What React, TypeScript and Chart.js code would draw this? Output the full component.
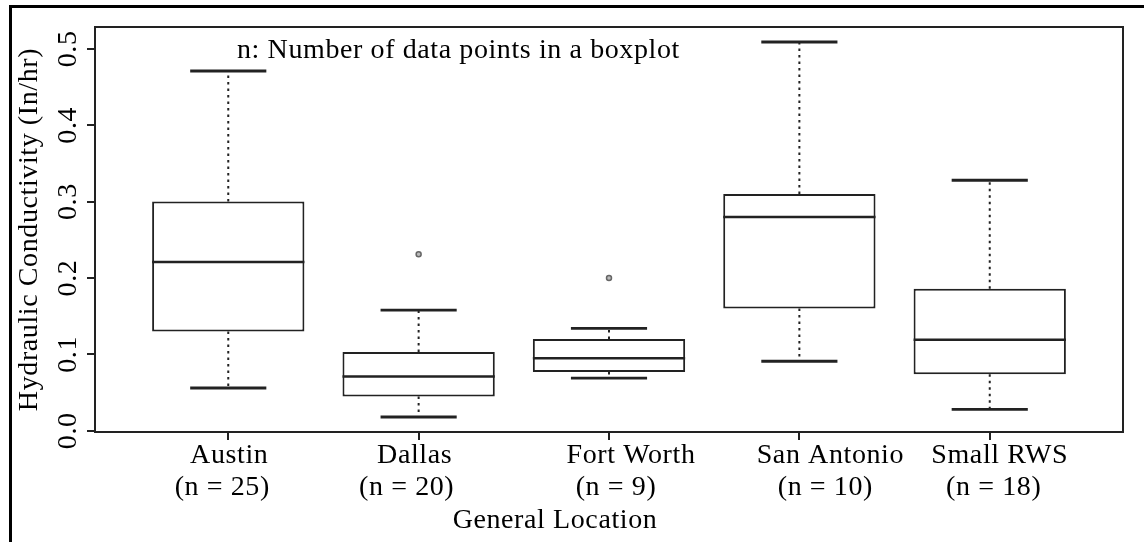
import { useEffect, useRef } from 'react';
import { Chart, registerables } from 'chart.js';

Chart.register(...registerables);

// Five-number summaries (in/hr) for each location
const LOCATIONS = ['Austin', 'Dallas', 'Fort Worth', 'San Antonio', 'Small RWS'];
const COUNTS = [25, 20, 9, 10, 18];
const WHISKER_LOW = [0.056, 0.018, 0.069, 0.091, 0.028];
const Q1 = [0.13, 0.045, 0.077, 0.16, 0.074];
const MEDIAN = [0.221, 0.071, 0.095, 0.28, 0.119];
const Q3 = [0.3, 0.103, 0.12, 0.31, 0.186];
const WHISKER_HIGH = [0.471, 0.158, 0.134, 0.509, 0.328];

// Points beyond the whiskers: group number (1-based) and value
const OUTLIER_GROUP = [2, 3];
const OUTLIER_VALUE = [0.231, 0.2];

const Y_TICKS = [0, 0.1, 0.2, 0.3, 0.4, 0.5];
const NOTE = 'n: Number of data points in a boxplot';
const Y_TITLE = 'Hydraulic Conductivity (In/hr)';
const X_TITLE = 'General Location';

const FONT_FAMILY = '"Liberation Serif", "Times New Roman", serif';
const FONT_SIZE = 28;
const LETTER_SPACING = '0.6px';
const INK = '#000';
const LINE = '#222';

// box is 0.8 of a slot wide, staples are half the box
const BOX_HALF = 0.4;
const CAP_HALF = 0.2;

// hand-placed nudges (px) of the two label lines under each tick
const NAME_NUDGE = [1, -4, 22, 31, 10];
const COUNT_NUDGE = [-6, -12, 7, 26, 4];

// axis ranges padded by 4% like R's default
const xLo = 0.5;
const xHi = LOCATIONS.length + 0.5;
const xPad = 0.04 * (xHi - xLo);
const allLow = Math.min(...WHISKER_LOW, ...OUTLIER_VALUE);
const allHigh = Math.max(...WHISKER_HIGH, ...OUTLIER_VALUE);
const yPad = 0.04 * (allHigh - allLow);

const boxplotPlugin = {
  id: 'boxplotParts',
  beforeUpdate(chart: any) {
    chart.ctx.letterSpacing = LETTER_SPACING;
  },
  beforeDraw(chart: any) {
    chart.ctx.letterSpacing = LETTER_SPACING;
  },
  afterDatasetsDraw(chart: any) {
    const { ctx, chartArea } = chart;
    const xs = chart.scales.x;
    const ys = chart.scales.y;
    ctx.save();
    ctx.strokeStyle = LINE;
    LOCATIONS.forEach((_, i) => {
      const g = i + 1;
      const cx = xs.getPixelForValue(g);
      const bl = xs.getPixelForValue(g - BOX_HALF);
      const br = xs.getPixelForValue(g + BOX_HALF);
      const cl = xs.getPixelForValue(g - CAP_HALF);
      const cr = xs.getPixelForValue(g + CAP_HALF);

      // median
      ctx.setLineDash([]);
      ctx.lineWidth = 2.5;
      ctx.beginPath();
      ctx.moveTo(bl, ys.getPixelForValue(MEDIAN[i]));
      ctx.lineTo(br, ys.getPixelForValue(MEDIAN[i]));
      ctx.stroke();

      // dotted whiskers
      ctx.lineWidth = 2;
      ctx.setLineDash([2.5, 4]);
      ctx.beginPath();
      ctx.moveTo(cx, ys.getPixelForValue(Q3[i]));
      ctx.lineTo(cx, ys.getPixelForValue(WHISKER_HIGH[i]));
      ctx.moveTo(cx, ys.getPixelForValue(Q1[i]));
      ctx.lineTo(cx, ys.getPixelForValue(WHISKER_LOW[i]));
      ctx.stroke();

      // staples
      ctx.setLineDash([]);
      ctx.lineWidth = 2.8;
      ctx.beginPath();
      ctx.moveTo(cl, ys.getPixelForValue(WHISKER_HIGH[i]));
      ctx.lineTo(cr, ys.getPixelForValue(WHISKER_HIGH[i]));
      ctx.moveTo(cl, ys.getPixelForValue(WHISKER_LOW[i]));
      ctx.lineTo(cr, ys.getPixelForValue(WHISKER_LOW[i]));
      ctx.stroke();
    });

    // plot frame
    ctx.lineWidth = 2;
    ctx.strokeStyle = LINE;
    ctx.strokeRect(
      chartArea.left,
      chartArea.top,
      chartArea.right - chartArea.left,
      chartArea.bottom - chartArea.top
    );

    ctx.fillStyle = INK;
    ctx.font = `${FONT_SIZE}px ${FONT_FAMILY}`;

    // note inside the frame
    ctx.textAlign = 'left';
    ctx.textBaseline = 'alphabetic';
    ctx.fillText(NOTE, chartArea.left + 142, chartArea.top + 31);

    // category names and sample sizes under the ticks
    ctx.textAlign = 'center';
    ctx.textBaseline = 'middle';
    LOCATIONS.forEach((name, i) => {
      const cx = xs.getPixelForValue(i + 1);
      ctx.fillText(name, cx + NAME_NUDGE[i], chartArea.bottom + 23.5);
      ctx.fillText(`(n = ${COUNTS[i]})`, cx + COUNT_NUDGE[i], chartArea.bottom + 55.5);
    });

    // x-axis title, set a little left of centre
    ctx.fillText(X_TITLE, chartArea.left + 460, chart.height - 21);
    ctx.restore();
  },
};

export default function App() {
  const canvasRef = useRef<HTMLCanvasElement>(null);

  useEffect(() => {
    const canvas = canvasRef.current;
    if (!canvas) return;

    const titleFont = { family: FONT_FAMILY, size: FONT_SIZE, lineHeight: 1.2 };

    const chart = new Chart(canvas, {
      type: 'bar',
      data: {
        datasets: [
          {
            type: 'bar',
            data: LOCATIONS.map((_, i) => ({ x: i + 1, y: [Q1[i], Q3[i]] })) as any,
            backgroundColor: '#ffffff',
            borderColor: LINE,
            borderWidth: 2,
            borderSkipped: false,
            barPercentage: 0.8,
            categoryPercentage: 1,
          },
          {
            type: 'scatter',
            data: OUTLIER_GROUP.map((g, i) => ({ x: g, y: OUTLIER_VALUE[i] })),
            pointStyle: 'circle',
            pointRadius: 2.5,
            borderColor: '#666',
            backgroundColor: '#bbb',
            borderWidth: 1.5,
          } as any,
        ],
      },
      options: {
        responsive: false,
        devicePixelRatio: 1,
        animation: false,
        events: [],
        layout: { padding: { left: 4, right: 21, top: 27, bottom: 0 } },
        plugins: {
          legend: { display: false },
          tooltip: { enabled: false },
        },
        scales: {
          x: {
            type: 'linear',
            offset: false,
            min: xLo - xPad,
            max: xHi + xPad,
            afterBuildTicks: (scale: any) => {
              scale.ticks = LOCATIONS.map((_, i) => ({ value: i + 1 }));
            },
            afterFit: (scale: any) => {
              scale.height = 110;
            },
            border: { display: false },
            grid: {
              offset: false,
              drawOnChartArea: false,
              drawTicks: true,
              tickLength: 8,
              color: LINE,
              lineWidth: 2,
            },
            ticks: { display: false },
          },
          y: {
            type: 'linear',
            min: allLow - yPad,
            max: allHigh + yPad,
            afterBuildTicks: (scale: any) => {
              scale.ticks = Y_TICKS.map((v) => ({ value: v }));
            },
            afterFit: (scale: any) => {
              scale.width = 91;
            },
            border: { display: false },
            grid: {
              drawOnChartArea: false,
              drawTicks: true,
              tickLength: 8,
              color: LINE,
              lineWidth: 2,
            },
            ticks: {
              minRotation: 90,
              maxRotation: 90,
              crossAlign: 'center',
              padding: 0,
              color: INK,
              font: { family: FONT_FAMILY, size: FONT_SIZE, lineHeight: 1.2 },
              callback: (v: any) => Number(v).toFixed(1),
            },
            title: {
              display: true,
              text: Y_TITLE,
              color: INK,
              font: titleFont,
              padding: { top: 9, bottom: 0 },
            },
          },
        },
      },
      plugins: [boxplotPlugin],
    });

    return () => chart.destroy();
  }, []);

  return (
    <div
      style={{
        position: 'absolute',
        left: 0,
        top: 0,
        width: 1144,
        height: 542,
        background: '#ffffff',
        overflow: 'hidden',
      }}
    >
      <div
        style={{
          position: 'absolute',
          left: 9,
          top: 5,
          right: 0,
          bottom: 0,
          borderTop: '3px solid #000',
          borderLeft: '3px solid #000',
        }}
      />
      <canvas
        ref={canvasRef}
        width={1144}
        height={542}
        style={{ position: 'absolute', left: 0, top: 0, display: 'block' }}
      />
    </div>
  );
}
